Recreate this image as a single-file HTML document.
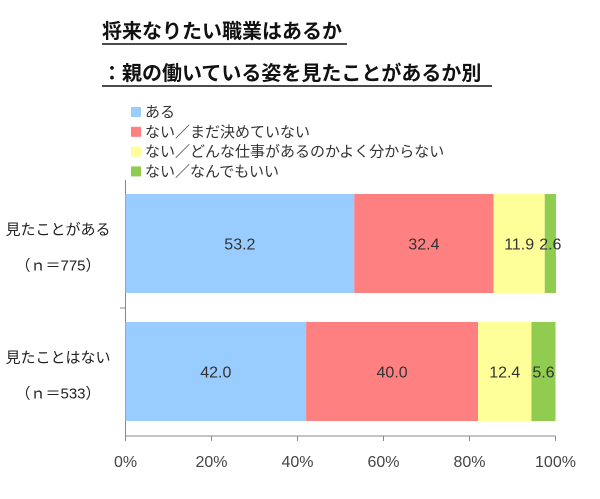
<!DOCTYPE html>
<html><head><meta charset="utf-8"><style>
body{margin:0;background:#fff;width:600px;height:494px;overflow:hidden;font-family:"Liberation Sans","Noto Sans CJK JP",sans-serif}
</style></head><body>
<svg width="600" height="494" xmlns="http://www.w3.org/2000/svg" font-family="Liberation Sans, Noto Sans CJK JP, sans-serif">
<g>
<text x="102" y="38" font-size="20" font-weight="bold" fill="#111">将来なりたい職業はあるか</text>
<line x1="102" y1="44" x2="347" y2="44" stroke="#111" stroke-width="1.5"/>
<text x="102" y="80" font-size="20" font-weight="bold" fill="#111">：親の働いている姿を見たことがあるか別</text>
<line x1="102" y1="86" x2="492" y2="86" stroke="#111" stroke-width="1.5"/>
</g>
<g id="legend"></g>
<g id="axis"></g>
<g id="bars"></g>
</svg>
<script>
const categories=["見たことがある","見たことはない"];
const sampleSizes=["（ｎ＝775）","（ｎ＝533）"];
const seriesNames=["ある","ない／まだ決めていない","ない／どんな仕事があるのかよく分からない","ない／なんでもいい"];
const seriesA=[53.2,42.0];
const seriesB=[32.4,40.0];
const seriesC=[11.9,12.4];
const seriesD=[2.6,5.6];
const tickValues=[0,20,40,60,80,100];
const colors=["#99ccff","#ff8080","#ffff99","#8fcc50"];
const NS="http://www.w3.org/2000/svg";
function mk(t,a,p){const e=document.createElementNS(NS,t);for(const k in a)e.setAttribute(k,a[k]);p.appendChild(e);return e;}
const x0=125.5,x1=555.5;
const xs=v=>x0+(x1-x0)*v/100;
const bandTop=[194,322],bandH=99;
const leg=document.getElementById('legend');
seriesNames.forEach((n,i)=>{
 const y=107+i*19.8;
 const r=mk('rect',{x:131,y:y,width:10,height:10,fill:colors[i]},leg);
 
 
 const t=mk('text',{x:145,y:y+10,'font-size':15,fill:'#333'},leg);t.textContent=n;
 
 
});
const ax=document.getElementById('axis');
mk('line',{x1:x0,y1:180,x2:x0,y2:436,stroke:'#888'},ax);
mk('line',{x1:x0,y1:436,x2:x1,y2:436,stroke:'#888'},ax);
mk('line',{x1:120,y1:308,x2:x0,y2:308,stroke:'#888'},ax);
tickValues.forEach(v=>{
 mk('line',{x1:xs(v),y1:436,x2:xs(v),y2:441,stroke:'#888'},ax);
 const t=mk('text',{x:xs(v),y:467,'font-size':16,'text-anchor':'middle',fill:'#444'},ax);t.textContent=v+'%';
 
 
});
categories.forEach((c,i)=>{
 const cy=bandTop[i]+bandH/2;
 const t=mk('text',{x:58,y:cy-9,'font-size':15,'text-anchor':'middle',fill:'#222'},ax);t.textContent=c;
 
 
 const t2=mk('text',{x:58,y:cy+27,'font-size':15,'text-anchor':'middle',fill:'#222'},ax);t2.textContent=sampleSizes[i];
 
 
});
const bars=document.getElementById('bars');
const series=[seriesA,seriesB,seriesC,seriesD];
categories.forEach((c,i)=>{
 let acc=0;
 series.forEach((s,j)=>{
  const v=s[i];
  const r=mk('rect',{x:xs(acc),y:bandTop[i],width:xs(acc+v)-xs(acc),height:bandH,fill:colors[j]},bars);
  
  
  const t=mk('text',{x:(xs(acc)+xs(acc+v))/2,y:bandTop[i]+bandH/2+6,'font-size':16,'text-anchor':'middle',fill:'#333'},bars);
  t.textContent=v.toFixed(1);
  
  
  acc+=v;
 });
});
</script>
</body></html>
